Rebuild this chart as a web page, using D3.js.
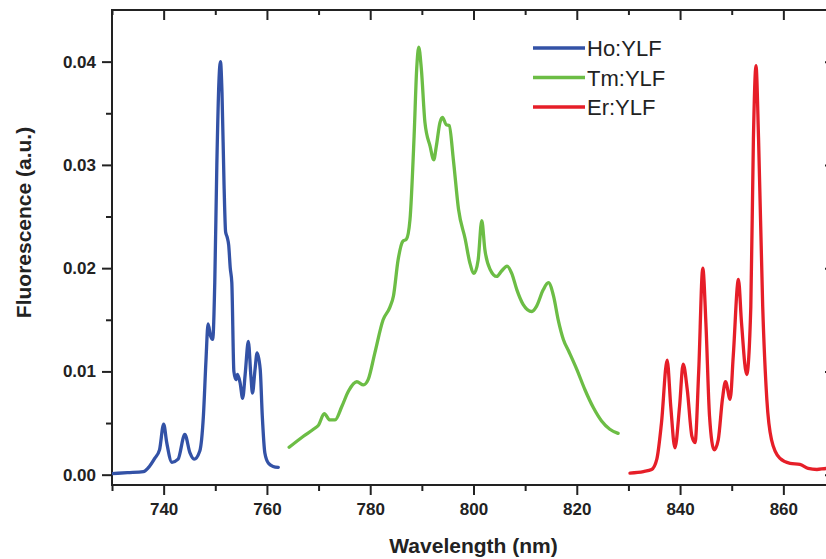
<!DOCTYPE html>
<html><head><meta charset="utf-8">
<script src="https://cdn.jsdelivr.net/npm/d3@7"></script>
<style>
html,body{margin:0;padding:0;background:#fff;overflow:hidden;}
svg{display:block;font-family:"Liberation Sans",Arial,sans-serif;}
</style></head>
<body>
<svg id="chart" width="826" height="559"></svg>
<script>
// ---- data (wavelength nm, fluorescence a.u.) ----
const seriesNames = ["Ho:YLF", "Tm:YLF", "Er:YLF"];
const seriesColors = ["#3352a6", "#6cbd45", "#e61e28"];

const hoX = [730, 733, 736.1, 737.0, 738.3, 739.2, 740.0, 740.6, 741.6, 742.8, 744.1, 745.1, 745.9, 747.0, 747.7, 748.2, 748.6, 749.1, 749.5, 749.9, 750.3, 750.7, 751.0, 751.3, 751.7, 752.0, 752.3, 752.6, 752.9, 753.2, 753.6, 754.0, 754.3, 754.8, 755.3, 755.8, 756.4, 756.9, 757.2, 757.7, 758.1, 758.7, 759.1, 759.6, 760.3, 761.2, 762.2];
const hoY = [0.0001, 0.0002, 0.0003, 0.00065, 0.0016, 0.0024, 0.0049, 0.0031, 0.0012, 0.0015, 0.0039, 0.0021, 0.0015, 0.0023, 0.0057, 0.0111, 0.0146, 0.0134, 0.0131, 0.0186, 0.030, 0.038, 0.0400, 0.037, 0.028, 0.0235, 0.0230, 0.0222, 0.0200, 0.0186, 0.0100, 0.0092, 0.0097, 0.0089, 0.0074, 0.0098, 0.0129, 0.0095, 0.0079, 0.0102, 0.0118, 0.0102, 0.0057, 0.0021, 0.0011, 0.0008, 0.0007];

const tmX = [764.3, 767.0, 769.0, 770.0, 771.1, 772.2, 773.2, 774.5, 775.8, 777.4, 778.7, 779.6, 780.9, 782.5, 783.8, 784.5, 785.4, 786.3, 787.0, 787.7, 788.5, 789.0, 789.4, 789.9, 790.6, 791.6, 792.3, 792.8, 793.5, 794.0, 794.7, 795.3, 796.1, 797.1, 798.4, 799.3, 800.1, 800.9, 801.6, 802.2, 803.2, 804.5, 805.4, 806.5, 807.4, 808.4, 809.6, 811.3, 812.2, 813.5, 814.5, 815.5, 816.4, 817.4, 818.4, 820.0, 821.6, 823.2, 824.8, 826.4, 828.0];
const tmY = [0.00265, 0.0037, 0.0044, 0.0048, 0.0059, 0.0053, 0.0053, 0.0066, 0.0081, 0.0090, 0.0087, 0.0092, 0.0118, 0.0150, 0.0162, 0.0173, 0.0208, 0.0226, 0.0228, 0.0247, 0.0328, 0.0393, 0.0414, 0.0393, 0.0341, 0.0318, 0.0305, 0.0318, 0.0341, 0.0346, 0.0339, 0.0338, 0.0305, 0.0257, 0.0228, 0.0205, 0.0195, 0.0208, 0.0246, 0.0218, 0.0199, 0.0192, 0.0197, 0.0202, 0.0195, 0.0179, 0.0165, 0.0158, 0.0163, 0.0179, 0.0186, 0.0173, 0.0150, 0.0131, 0.0120, 0.0102, 0.0082, 0.0065, 0.0052, 0.0044, 0.0040];

const erX = [830.3, 832.9, 834.5, 835.5, 836.4, 837.5, 838.2, 839.0, 839.9, 840.6, 841.4, 842.3, 842.9, 843.6, 844.4, 845.0, 845.7, 846.6, 847.4, 848.2, 848.8, 849.7, 850.3, 851.3, 851.9, 852.9, 853.7, 854.2, 854.7, 855.2, 856.0, 856.8, 857.7, 859.3, 861.3, 863.2, 864.8, 866.5, 868.3, 870];
const erY = [0.00016, 0.0003, 0.0005, 0.0015, 0.0050, 0.0111, 0.0066, 0.0026, 0.0066, 0.0107, 0.0082, 0.0037, 0.0031, 0.0099, 0.0200, 0.0147, 0.0057, 0.0024, 0.0034, 0.0073, 0.0090, 0.0073, 0.0115, 0.0189, 0.0147, 0.0097, 0.0163, 0.0325, 0.0396, 0.0325, 0.0163, 0.0073, 0.0034, 0.0016, 0.0011, 0.0010, 0.0006, 0.0005, 0.0006, 0.0005];

const xMajorTicks = [740, 760, 780, 800, 820, 840, 860];
const xMinorTicks = [730, 750, 770, 790, 810, 830, 850, 870];
const yMajorTicks = [0.00, 0.01, 0.02, 0.03, 0.04];
const yMinorTicks = [0.005, 0.015, 0.025, 0.035];
const xTitle = "Wavelength (nm)";
const yTitle = "Fluorescence (a.u.)";

// ---- layout ----
const L = 112, R = 835, T = 10, B = 485;
const svg = d3.select("#chart");
const x = d3.scaleLinear().domain([730, 870]).range([L, R]);
const y = d3.scaleLinear().domain([-0.001, 0.045]).range([B, T]);
const axisColor = "#222";

function styleAxis(g) {
  g.select(".domain").remove();
  g.selectAll("line").attr("stroke", axisColor).attr("stroke-width", 2);
  g.selectAll("text").attr("fill", "#222").attr("font-weight", "bold").attr("font-size", "17px")
    .attr("font-family", "Liberation Sans, Arial, sans-serif");
}

// bottom
svg.append("g").attr("transform", `translate(0,${B})`)
  .call(d3.axisBottom(x).tickValues(xMajorTicks).tickSize(10).tickPadding(8).tickFormat(d3.format("d")))
  .call(styleAxis);
svg.append("g").attr("transform", `translate(0,${B})`)
  .call(d3.axisBottom(x).tickValues(xMinorTicks).tickSize(6).tickFormat(""))
  .call(styleAxis);
// top (inward)
svg.append("g").attr("transform", `translate(0,${T})`)
  .call(d3.axisBottom(x).tickValues(xMajorTicks).tickSize(10).tickFormat(""))
  .call(styleAxis);
svg.append("g").attr("transform", `translate(0,${T})`)
  .call(d3.axisBottom(x).tickValues(xMinorTicks).tickSize(5).tickFormat(""))
  .call(styleAxis);
// left
svg.append("g").attr("transform", `translate(${L},0)`)
  .call(d3.axisLeft(y).tickValues(yMajorTicks).tickSize(10).tickPadding(6).tickFormat(d3.format(".2f")))
  .call(styleAxis);
svg.append("g").attr("transform", `translate(${L},0)`)
  .call(d3.axisLeft(y).tickValues(yMinorTicks).tickSize(6).tickFormat(""))
  .call(styleAxis);
// right (inward)
svg.append("g").attr("transform", `translate(${R},0)`)
  .call(d3.axisLeft(y).tickValues(yMajorTicks).tickSize(10).tickFormat(""))
  .call(styleAxis);

// frame
svg.append("rect").attr("x", L).attr("y", T).attr("width", R - L).attr("height", B - T)
  .attr("fill", "none").attr("stroke", axisColor).attr("stroke-width", 2);

// lines
const line = d3.line().x(d => x(d[0])).y(d => y(d[1])).curve(d3.curveMonotoneX);
const series = [
  d3.zip(hoX, hoY),
  d3.zip(tmX, tmY),
  d3.zip(erX, erY)
];
svg.append("clipPath").attr("id", "clip").append("rect")
  .attr("x", L).attr("y", T).attr("width", R - L).attr("height", B - T);
svg.append("g").attr("clip-path", "url(#clip)")
  .selectAll("path").data(series).join("path")
  .attr("d", line)
  .attr("fill", "none")
  .attr("stroke", (d, i) => seriesColors[i])
  .attr("stroke-width", 3.3)
  .attr("stroke-linejoin", "round")
  .attr("stroke-linecap", "round");

// legend
const leg = svg.append("g");
seriesNames.forEach((n, i) => {
  const yy = 48 + i * 29.5;
  leg.append("line").attr("x1", 533).attr("x2", 585).attr("y1", yy).attr("y2", yy)
    .attr("stroke", seriesColors[i]).attr("stroke-width", 3.3);
  leg.append("text").attr("x", 587).attr("y", yy + 8).text(n)
    .attr("font-size", "22px").attr("fill", "#222");
});

// titles
svg.append("text").attr("x", x(800)).attr("y", 553).attr("text-anchor", "middle")
  .attr("font-weight", "bold").attr("font-size", "21px").attr("fill", "#222").text(xTitle);
svg.append("text").attr("transform", `translate(31,${(T + B) / 2 - 25}) rotate(-90)`)
  .attr("text-anchor", "middle")
  .attr("font-weight", "bold").attr("font-size", "21px").attr("fill", "#222").text(yTitle);
</script>
</body></html>
